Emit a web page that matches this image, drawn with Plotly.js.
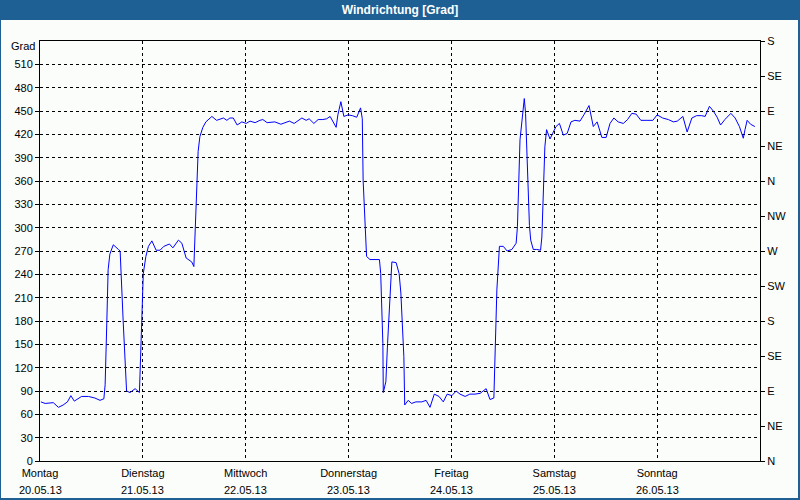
<!DOCTYPE html>
<html>
<head>
<meta charset="utf-8">
<script src="https://cdn.plot.ly/plotly-3.0.1.min.js"></script>
<style>
  html, body { margin: 0; padding: 0; background: #fbfdfb; }
  #frame {
    position: relative; width: 800px; height: 500px; box-sizing: border-box;
    background: linear-gradient(#1e6094 0, #1e6094 20px, #fbfdfb 20px);
    border-left: 1px solid #1e6094; border-right: 2px solid #1e6094; border-bottom: 2px solid #1e6094;
  }
  #chart { position: absolute; left: 0; top: 0; width: 800px; height: 500px; }
</style>
</head>
<body>
<div id="frame"></div>
<div id="chart"></div>
<script>
// Hours since Monday 20.05.2013 00:00 and wind direction in degrees
const hours = [0.2,1.2,3.1,4.3,5.4,6.4,7.2,8.0,9.7,11.3,12.8,14.0,14.9,15.2,15.6,15.9,16.3,17.1,18.3,18.7,19.4,20.2,21.0,22.2,23.2,23.7,24.1,24.7,25.3,26.1,27.1,28.0,28.9,30.2,31.0,32.3,33.1,34.1,35.4,35.9,36.2,36.6,36.9,37.3,38.0,38.7,40.1,41.2,42.8,43.6,44.3,45.1,46.0,47.1,48.1,49.0,50.2,51.3,52.0,53.0,54.8,56.2,57.2,58.2,59.3,61.1,62.1,62.8,63.9,64.9,66.0,66.9,67.7,68.4,69.1,69.5,70.2,70.9,71.9,72.9,73.9,74.8,75.2,75.4,75.8,76.2,77.0,78.2,79.2,79.5,80.0,80.1,80.7,81.1,81.5,82.1,83.1,83.8,84.2,84.5,84.9,85.1,85.9,86.7,87.7,89.1,90.1,91.0,92.0,93.1,94.1,95.0,96.1,97.1,98.0,99.2,100.3,101.5,102.7,104.1,105.0,105.9,106.2,106.6,107.2,108.1,109.0,110.1,111.1,111.4,112.0,112.6,113.0,113.3,113.7,114.2,114.5,115.1,115.9,116.8,117.1,117.4,117.8,118.2,119.0,119.6,120.4,121.2,122.1,123.0,123.9,124.8,126.0,126.9,128.1,129.1,130.0,131.1,132.1,133.0,133.9,134.9,136.1,137.1,138.1,139.1,140.2,141.6,143.0,144.0,145.3,146.6,147.8,148.7,150.0,151.0,152.1,153.2,154.4,155.2,156.2,157.1,158.0,158.8,159.8,161.2,162.2,163.2,164.1,164.5,165.0,165.8,166.8];
const direction = [76,74,75,69,72,76,84,77,83,83,81,78,80,98,181,246,266,278,272,270,181,90,88,93,88,181,241,263,276,283,271,271,276,279,274,284,280,261,256,250,297,361,398,417,429,436,443,438,441,438,441,441,432,436,434,437,435,438,439,435,436,433,435,437,434,441,438,440,434,439,439,440,443,435,429,445,462,443,445,444,442,454,440,361,318,263,259,259,259,241,151,88,102,151,198,256,255,241,216,173,134,72,78,74,76,76,78,69,86,83,76,86,84,90,86,83,86,86,87,93,79,81,138,220,276,276,270,272,280,301,413,449,466,447,383,303,284,272,272,271,288,336,404,426,414,421,430,434,419,421,436,438,437,445,457,430,436,416,416,434,441,436,434,439,447,446,438,438,438,445,441,439,436,437,443,423,441,444,444,443,456,450,442,432,439,447,441,430,415,426,438,433,430];

const dayTicks = ['2013-05-20','2013-05-21','2013-05-22','2013-05-23','2013-05-24','2013-05-25','2013-05-26'];
const dayNames = ['Montag','Dienstag','Mittwoch','Donnerstag','Freitag','Samstag','Sonntag'];
const dayDates = ['20.05.13','21.05.13','22.05.13','23.05.13','24.05.13','25.05.13','26.05.13'];
const degreeTicks = [0,30,60,90,120,150,180,210,240,270,300,330,360,390,420,450,480,510];
const compassTicks = [0,45,90,135,180,225,270,315,360,405,450,495,540];
const compassLabels = ['N','NE','E','SE','S','SW','W','NW','N','NE','E','SE','S'];

function toStamp(h) {
  const ms = Date.UTC(2013, 4, 20) + h * 3600000;
  return new Date(ms).toISOString().slice(0, 19).replace('T', ' ');
}

const FONT = 'Liberation Sans, Arial, sans-serif';
const trace = {
  x: hours.map(toStamp), y: direction, type: 'scatter', mode: 'lines',
  line: { color: '#0000ff', width: 1 }, hoverinfo: 'skip', showlegend: false
};
const dummy = { x: [toStamp(0)], y: [0], yaxis: 'y2', mode: 'markers', marker: { opacity: 0 }, showlegend: false, hoverinfo: 'skip' };

const annotations = dayTicks.map((d, i) => ({
  x: d, xref: 'x', y: 0, yref: 'paper', yanchor: 'middle', yshift: -29,
  text: dayDates[i], showarrow: false, font: { family: FONT, size: 11, color: '#000' }
}));
annotations.push({
  x: 0, xref: 'paper', xanchor: 'right', xshift: -3, y: 1, yref: 'paper', yanchor: 'middle', yshift: -5,
  text: 'Grad', showarrow: false, font: { family: FONT, size: 11, color: '#000' }
});

const layout = {
  width: 800, height: 500,
  margin: { l: 40, r: 40, t: 41, b: 39, pad: 0 },
  paper_bgcolor: 'rgba(0,0,0,0)', plot_bgcolor: 'rgba(0,0,0,0)',
  font: { family: FONT, size: 11, color: '#000' },
  title: { text: 'Windrichtung [Grad]', x: 0.5, xanchor: 'center', y: 0.98, yref: 'container', yanchor: 'middle',
           font: { family: FONT, size: 12, color: '#ffffff', weight: 'bold' } },
  xaxis: {
    type: 'date', range: ['2013-05-20 00:00', '2013-05-27 00:00'],
    tickvals: dayTicks, ticktext: dayNames, ticks: '', ticklabelstandoff: 2,
    showgrid: true, gridcolor: '#000', gridwidth: 1, griddash: '3px,3px',
    showline: true, linecolor: '#000', linewidth: 1, mirror: true, zeroline: false
  },
  yaxis: {
    range: [0, 540], tickvals: degreeTicks, ticks: 'outside', ticklen: 4, tickcolor: '#000',
    showgrid: true, gridcolor: '#000', gridwidth: 1, griddash: '3px,3px',
    showline: true, linecolor: '#000', linewidth: 1, zeroline: false, fixedrange: true
  },
  yaxis2: {
    overlaying: 'y', side: 'right', range: [0, 540], tickvals: compassTicks, ticktext: compassLabels,
    ticks: 'outside', ticklen: 4, tickcolor: '#000', showgrid: false,
    showline: true, linecolor: '#000', linewidth: 1, zeroline: false
  },
  annotations: annotations
};

Plotly.newPlot('chart', [trace, dummy], layout, { displayModeBar: false, staticPlot: true });
</script>
</body>
</html>
